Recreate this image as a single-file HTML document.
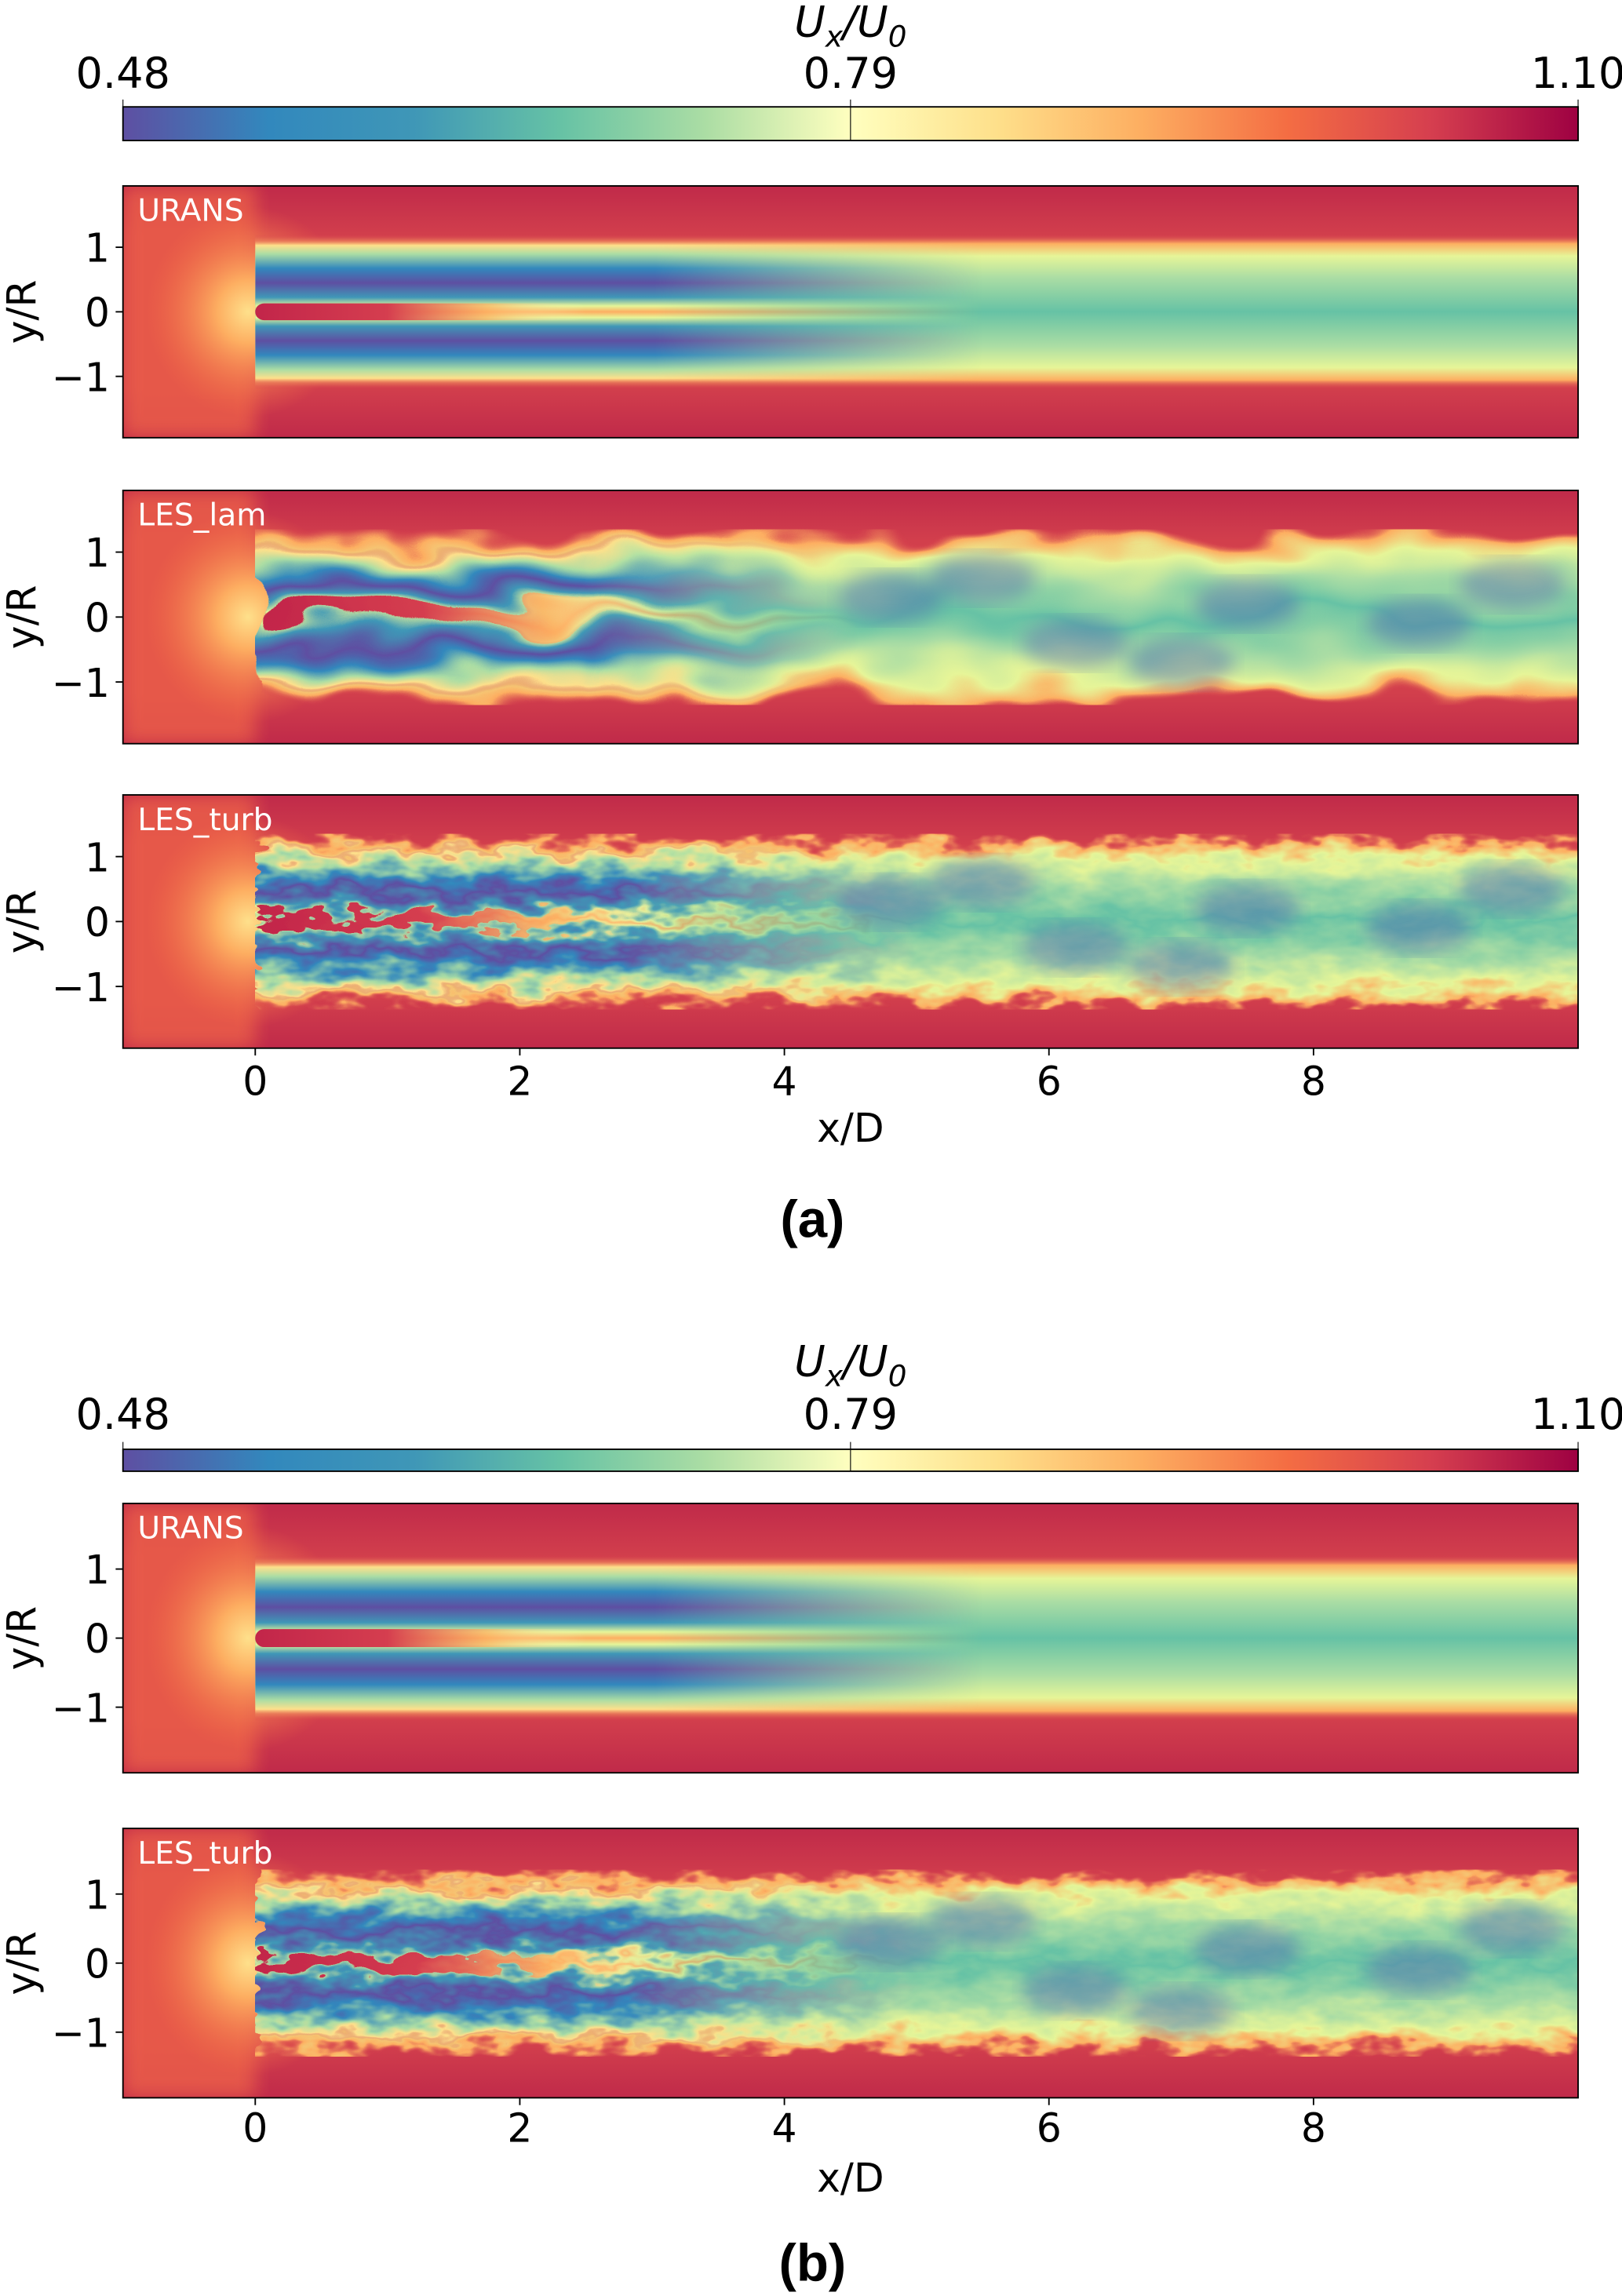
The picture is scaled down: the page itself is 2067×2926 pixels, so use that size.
<!DOCTYPE html>
<html><head><meta charset="utf-8"><style>
html,body{margin:0;padding:0;background:#fff;}
svg{display:block;}
text{font-family:"DejaVu Sans","Liberation Sans",sans-serif;}
</style></head><body>
<svg id="fig" width="2067" height="2926" viewBox="0 0 1108 1568.4" preserveAspectRatio="none" xmlns="http://www.w3.org/2000/svg">
<defs>
<linearGradient id="cmap" x1="0" x2="1" y1="0" y2="0">
<stop offset="0" stop-color="#5e4fa2"/><stop offset="0.1" stop-color="#3288bd"/><stop offset="0.2" stop-color="#3f97b7"/><stop offset="0.3" stop-color="#66c2a5"/><stop offset="0.4" stop-color="#abdda4"/><stop offset="0.5" stop-color="#ffffbf"/><stop offset="0.6" stop-color="#fee08b"/><stop offset="0.7" stop-color="#fdae61"/><stop offset="0.8" stop-color="#f46d43"/><stop offset="0.9" stop-color="#d53e4f"/><stop offset="1" stop-color="#9e0142"/>
</linearGradient>
<linearGradient id="nearW" x1="0" x2="0" y1="0" y2="1">
<stop offset="0" stop-color="#d53e4f" stop-opacity="0"/><stop offset="0.04" stop-color="#fee08b"/><stop offset="0.1" stop-color="#abdda4"/><stop offset="0.2" stop-color="#3288bd"/><stop offset="0.3" stop-color="#5e4fa2"/><stop offset="0.4" stop-color="#3f97b7"/><stop offset="0.46" stop-color="#e6f598"/><stop offset="0.5" stop-color="#fdae61"/><stop offset="0.54" stop-color="#e6f598"/><stop offset="0.6" stop-color="#3f97b7"/><stop offset="0.7" stop-color="#5e4fa2"/><stop offset="0.8" stop-color="#3288bd"/><stop offset="0.9" stop-color="#abdda4"/><stop offset="0.96" stop-color="#fee08b"/><stop offset="1" stop-color="#d53e4f" stop-opacity="0"/>
</linearGradient>
<linearGradient id="farW" x1="0" x2="0" y1="0" y2="1">
<stop offset="0" stop-color="#d53e4f" stop-opacity="0"/><stop offset="0.06" stop-color="#fdae61"/><stop offset="0.14" stop-color="#e6f598"/><stop offset="0.28" stop-color="#abdda4"/><stop offset="0.5" stop-color="#66c2a5"/><stop offset="0.72" stop-color="#abdda4"/><stop offset="0.86" stop-color="#e6f598"/><stop offset="0.94" stop-color="#fdae61"/><stop offset="1" stop-color="#d53e4f" stop-opacity="0"/>
</linearGradient>
<linearGradient id="bgV" x1="0" x2="0" y1="0" y2="1">
<stop offset="0" stop-color="#c02a4a"/><stop offset="0.2" stop-color="#d23f4c"/><stop offset="0.8" stop-color="#d23f4c"/><stop offset="1" stop-color="#c02a4a"/>
</linearGradient>
<linearGradient id="fadeX" x1="0" x2="1" y1="0" y2="0">
<stop offset="0" stop-color="#fff"/><stop offset="0.55" stop-color="#fff"/><stop offset="1" stop-color="#000"/>
</linearGradient>
<linearGradient id="jetX" x1="0" x2="1" y1="0" y2="0">
<stop offset="0" stop-color="#c2254a"/><stop offset="0.4" stop-color="#d53e4f"/><stop offset="0.7" stop-color="#fdae61" stop-opacity="0.7"/><stop offset="1" stop-color="#ffffbf" stop-opacity="0"/>
</linearGradient>
<radialGradient id="inflow" cx="0.5" cy="0.5" r="0.5">
<stop offset="0" stop-color="#fee08b"/><stop offset="0.3" stop-color="#fdae61"/><stop offset="1" stop-color="#f46d43" stop-opacity="0"/>
</radialGradient>
<filter id="blur"><feGaussianBlur stdDeviation="6"/></filter>
<filter id="turb" x="0" y="0" width="1" height="1"><feTurbulence type="fractalNoise" baseFrequency="0.04 0.08" numOctaves="3" seed="4"/><feDisplacementMap in="SourceGraphic" scale="28" xChannelSelector="R" yChannelSelector="G"/></filter>
<filter id="lam" x="0" y="0" width="1" height="1"><feTurbulence type="fractalNoise" baseFrequency="0.015 0.03" numOctaves="2" seed="7"/><feDisplacementMap in="SourceGraphic" scale="40" xChannelSelector="R" yChannelSelector="G"/></filter>
</defs>
<g id="root"></g>
</svg>
<script>
const xTicks=[0,2,4,6,8];
const yTicks=[1,0,-1];
const cbarTicks=["0.48","0.79","1.10"];
const cbarValues=[0.48,0.79,1.10];
const panelsA=["URANS","LES_lam","LES_turb"];
const panelsB=["URANS","LES_turb"];
const NS="http://www.w3.org/2000/svg";
const root=document.getElementById('root');
function el(tag,attrs,parent){const e=document.createElementNS(NS,tag);for(const k in attrs)e.setAttribute(k,attrs[k]);(parent||root).appendChild(e);return e;}
const X0=84,X1=1078;
const sx=v=>X0+(v+1)/11*(X1-X0);
function cbar(y0,h,ty,titleY){
  const g=el('g',{});
  
  
  el('rect',{x:X0,y:y0,width:X1-X0,height:h,fill:'url(#cmap)',stroke:'#000','stroke-width':1},g);
  const cx=v=>X0+(v-cbarValues[0])/(cbarValues[2]-cbarValues[0])*(X1-X0);
  cbarTicks.forEach((t,i)=>{
    const x=cx(cbarValues[i]);
    el('line',{x1:x,x2:x,y1:y0-5,y2:i==1?y0+h:y0,stroke:'#000','stroke-width':0.6},g);
    const tx=el('text',{x:x,y:ty,'text-anchor':'middle','font-size':29},g);
    tx.textContent=t;
    
    
  });
  const tt=el('text',{x:581,y:titleY,'text-anchor':'middle','font-size':29,'font-style':'italic'},g);
  tt.innerHTML='U<tspan font-size="20" dy="7">x</tspan><tspan dy="-7">/U</tspan><tspan font-size="20" dy="7">0</tspan>';
  
  
}
let pid=0;
function panel(y0,y1,label,ticks){
  pid++;
  const g=el('g',{});
  
  
  const yc=(y0+y1)/2, ys=(y1-y0)/3.9;
  const sy=v=>yc-v*ys;
  const cp=el('clipPath',{id:'cp'+pid},g);el('rect',{x:X0,y:y0,width:X1-X0,height:y1-y0},cp);
  const c=el('g',{'clip-path':'url(#cp'+pid+')'},g);
  el('rect',{x:X0,y:y0,width:X1-X0,height:y1-y0,fill:'url(#bgV)'},c);
  el('rect',{x:X0,y:y0,width:sx(0)-X0,height:y1-y0,fill:'#ec6148',opacity:0.8,filter:'url(#blur)'},c);
  el('ellipse',{cx:sx(0)-5,cy:yc,rx:70,ry:(y1-y0)*0.42,fill:'url(#inflow)'},c);
  const wide=label==='URANS'?1.2:1.35;
  const wg=el('g',label==='URANS'?{}:{filter:label==='LES_lam'?'url(#lam)':'url(#turb)'},c);
  el('rect',{x:sx(0),y:sy(wide),width:sx(10.2)-sx(0),height:sy(-wide)-sy(wide),fill:'url(#farW)'},wg);
  const mk=el('mask',{id:'mk'+pid},g);
  const nearEnd=label==='URANS'?5.5:(label==='LES_lam'?4.5:5);
  el('rect',{x:sx(0),y:y0,width:sx(nearEnd)-sx(0),height:y1-y0,fill:'url(#fadeX)'},mk);
  el('rect',{x:sx(0),y:sy(1.12),width:sx(nearEnd)-sx(0),height:sy(-1.12)-sy(1.12),fill:'url(#nearW)',mask:'url(#mk'+pid+')'},wg);
  el('rect',{x:sx(0),y:sy(0.13),width:sx(label==='URANS'?2.5:3.2)-sx(0),height:sy(-0.13)-sy(0.13),fill:'url(#jetX)',rx:6},wg);
  if(label!=='URANS'){
    [[4.8,0.3],[6.2,-0.4],[7.5,0.2],[8.8,-0.1],[5.5,0.6],[7,-0.7],[9.5,0.5]].forEach(p=>{
      el('ellipse',{cx:sx(p[0]),cy:sy(p[1]),rx:36,ry:17,fill:'#4f6ab0',opacity:0.45,filter:'url(#blur)'},c);
    });
  }
  const lt=el('text',{x:X0+10,y:y0+24,'font-size':21,fill:'#fff'},g);
  lt.textContent=label;
  
  
  el('rect',{x:X0,y:y0,width:X1-X0,height:y1-y0,fill:'none',stroke:'#000','stroke-width':1},g);
  yTicks.forEach(t=>{
    const y=sy(t);
    el('line',{x1:X0-5,x2:X0,y1:y,y2:y,stroke:'#000'},g);
    const tx=el('text',{x:X0-9,y:y+10,'text-anchor':'end','font-size':27},g);
    tx.textContent=t<0?'\u22121':String(t);
    
    
  });
  const yl=el('text',{x:0,y:0,'text-anchor':'middle','font-size':27,transform:`translate(24,${yc}) rotate(-90)`},g);
  yl.textContent='y/R';
  
  
  if(ticks){
    xTicks.forEach(t=>{
      el('line',{x1:sx(t),x2:sx(t),y1:y1,y2:y1+5,stroke:'#000'},g);
      const tx=el('text',{x:sx(t),y:ticks,'text-anchor':'middle','font-size':27},g);
      tx.textContent=String(t);
      
      
    });
  }
}
function xtitle(y,lab,ly){
  const t=el('text',{x:581,y:y,'text-anchor':'middle','font-size':27});
  t.textContent='x/D';
  
  
  const l=el('text',{x:555,y:ly,'text-anchor':'middle','font-size':36,'font-weight':'bold',style:'font-family:"Liberation Sans",sans-serif'});
  l.textContent=lab;
  
  
}
cbar(73,23,60,25);
panel(127,299,panelsA[0]);
panel(335,508,panelsA[1]);
panel(543,716,panelsA[2],748);
xtitle(780,'(a)',845);
cbar(990,15,976,940);
panel(1027,1211,panelsB[0]);
panel(1249,1433,panelsB[1],1463);
xtitle(1497,'(b)',1558);
</script>
</body></html>
